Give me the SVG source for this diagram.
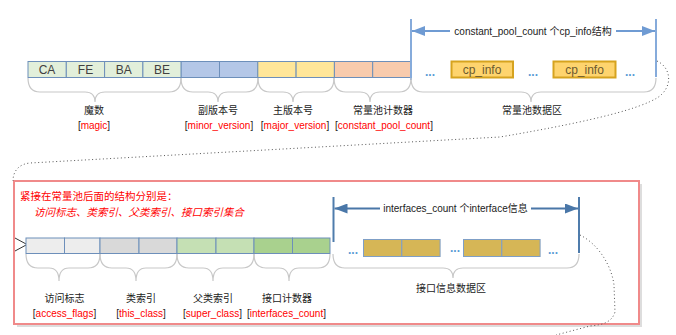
<svg xmlns="http://www.w3.org/2000/svg" width="676" height="335" viewBox="0 0 676 335">
<style>
  .t { font-family: "Liberation Sans", "Noto Sans CJK SC", sans-serif; font-size: 10px; fill: #222; text-anchor: middle; }
  .red { fill: #ff0000; }
  .cell { stroke: #6d8fba; stroke-width: 1; }
  .brace { fill: none; stroke: #c8c8c8; stroke-width: 1.2; }
  .dots { fill: none; stroke: #555; stroke-width: 1; stroke-dasharray: 1 2.6; }
  .ct { font-family: "Liberation Sans", "Noto Sans CJK SC", sans-serif; font-size: 12px; fill: #404040; text-anchor: middle; }
  .cp { fill: #6b5a30; }
  .ell { font-family: "Liberation Sans", sans-serif; font-size: 12px; fill: #5b9bd5; text-anchor: middle; font-weight: bold; }
  .vt1 { stroke: #86abdb; stroke-width: 2; }
  .vt2 { stroke: #4f7cac; stroke-width: 2; }
  .note { font-family: "Liberation Sans", "Noto Sans CJK SC", sans-serif; font-size: 10.5px; fill: #ff0000; }
</style>
<defs>
  <marker id="a1" markerUnits="userSpaceOnUse" markerWidth="13" markerHeight="10" refX="13" refY="5" orient="auto-start-reverse" viewBox="0 0 13 10">
    <path d="M0,0 L13,5 L0,10 z" fill="#6f9bd3"/>
  </marker>
  <marker id="a2" markerUnits="userSpaceOnUse" markerWidth="13" markerHeight="10" refX="13" refY="5" orient="auto-start-reverse" viewBox="0 0 13 10">
    <path d="M0,0 L13,5 L0,10 z" fill="#4a77a8"/>
  </marker>
</defs>
<rect width="676" height="335" fill="#fff"/>

<!-- Red container box -->
<g id="group-after-pool">
  <rect x="17" y="184" width="625" height="143" fill="#cfcfcf" opacity="0.7"/>
  <rect x="14" y="181" width="625" height="143" fill="#fff" stroke="#f08a8a" stroke-width="2"/>
  <text class="note" x="20" y="200">紧接在常量池后面的结构分别是：</text>
  <text class="note" x="34" y="215.5" font-style="italic">访问标志、类索引、父类索引、接口索引集合</text>
</g>

<g id="connectors">
  <path class="dots" d="M657,61 C672,68 673,88 657,98 C640,108 600,120 500,137 L30,163 C19,164 13,171 13,181"/>
  <polyline points="15,238 27,244.5 15,251" fill="none" stroke="#333" stroke-width="1"/>
  <path class="dots" d="M580,235 C600,245 612,268 614,285 L615,312 C612,322 603,325 590,326 L556,335"/>
</g>

<!-- Row 1 -->
<g id="magic">
  <rect class="cell" x="28" y="61.5" width="38.3" height="16" fill="#e2efda"/>
  <rect class="cell" x="66.3" y="61.5" width="38.3" height="16" fill="#e2efda"/>
  <rect class="cell" x="104.6" y="61.5" width="38.3" height="16" fill="#e2efda"/>
  <rect class="cell" x="142.9" y="61.5" width="38.3" height="16" fill="#e2efda"/>
  <text class="ct" x="47" y="74">CA</text>
  <text class="ct" x="85.5" y="74">FE</text>
  <text class="ct" x="123.8" y="74">BA</text>
  <text class="ct" x="162" y="74">BE</text>
  <path class="brace" d="M28,78 Q28,92 40,92 L85,92 Q95,92 95,102 Q95,92 105,92 L169,92 Q181,92 181,78"/>
  <text class="t" x="94" y="114">魔数</text>
  <text class="t" x="94" y="129">[<tspan class="red">magic</tspan>]</text>
</g>
<g id="minor_version">
  <rect class="cell" x="181.2" y="61.5" width="38.3" height="16" fill="#b4c7e7"/>
  <rect class="cell" x="219.5" y="61.5" width="38.3" height="16" fill="#b4c7e7"/>
  <path class="brace" d="M181,78 Q181,92 193,92 L208,92 Q218,92 218,102 Q218,92 228,92 L246,92 Q258,92 258,78"/>
  <text class="t" x="218" y="114">副版本号</text>
  <text class="t" x="219" y="129">[<tspan class="red">minor_version</tspan>]</text>
</g>
<g id="major_version">
  <rect class="cell" x="257.8" y="61.5" width="38.3" height="16" fill="#ffe699"/>
  <rect class="cell" x="296.1" y="61.5" width="38.3" height="16" fill="#ffe699"/>
  <path class="brace" d="M258,78 Q258,92 270,92 L283,92 Q293,92 293,102 Q293,92 303,92 L322,92 Q334,92 334,78"/>
  <text class="t" x="293" y="114">主版本号</text>
  <text class="t" x="295" y="129">[<tspan class="red">major_version</tspan>]</text>
</g>
<g id="constant_pool_count">
  <rect class="cell" x="334.4" y="61.5" width="38.3" height="16" fill="#f8cbad"/>
  <rect class="cell" x="372.7" y="61.5" width="38.3" height="16" fill="#f8cbad"/>
  <path class="brace" d="M334,78 Q334,92 346,92 L360,92 Q370,92 370,102 Q370,92 380,92 L399,92 Q411,92 411,78"/>
  <text class="t" x="383" y="114">常量池计数器</text>
  <text class="t" x="384" y="129">[<tspan class="red">constant_pool_count</tspan>]</text>
</g>
<g id="constant_pool">
  <line class="vt1" x1="411" y1="19" x2="411" y2="80"/>
  <line class="vt1" x1="656" y1="19" x2="656" y2="77"/>
  <line x1="412" y1="31" x2="655" y2="31" stroke="#6f9bd3" stroke-width="2" marker-start="url(#a1)" marker-end="url(#a1)"/>
  <rect x="450" y="25" width="166" height="12" fill="#fff"/>
  <text class="t" x="533" y="34.5">constant_pool_count 个cp_info结构</text>
  <rect x="451.5" y="61.5" width="61.5" height="16" fill="#fed46e" stroke="#d6a31f" stroke-width="2"/>
  <rect x="553.5" y="61.5" width="62" height="16" fill="#fed46e" stroke="#d6a31f" stroke-width="2"/>
  <text class="ct cp" x="482" y="74">cp_info</text>
  <text class="ct cp" x="584.5" y="74">cp_info</text>
  <text class="ell" x="430" y="76">...</text>
  <text class="ell" x="533" y="76">...</text>
  <text class="ell" x="630" y="76">...</text>
  <path class="brace" d="M411,78 Q411,92 423,92 L521,92 Q531,92 531,102 Q531,92 541,92 L644,92 Q656,92 656,78"/>
  <text class="t" x="532" y="114">常量池数据区</text>
</g>

<!-- Row 2 -->
<g id="access_flags">
  <rect class="cell" x="26" y="238" width="38.5" height="15.5" fill="#ededed"/>
  <rect class="cell" x="64.5" y="238" width="35.5" height="15.5" fill="#ededed"/>
  <path class="brace" d="M26,254 Q26,268 38,268 L49,268 Q59,268 59,281 Q59,268 69,268 L88,268 Q100,268 100,254"/>
  <text class="t" x="64.5" y="302">访问标志</text>
  <text class="t" x="64.5" y="317">[<tspan class="red">access_flags</tspan>]</text>
</g>
<g id="this_class">
  <rect class="cell" x="100" y="238" width="39" height="15.5" fill="#d9d9d9"/>
  <rect class="cell" x="139" y="238" width="38" height="15.5" fill="#d9d9d9"/>
  <path class="brace" d="M100,254 Q100,268 112,268 L126,268 Q136,268 136,281 Q136,268 146,268 L165,268 Q177,268 177,254"/>
  <text class="t" x="141" y="302">类索引</text>
  <text class="t" x="141" y="317">[<tspan class="red">this_class</tspan>]</text>
</g>
<g id="super_class">
  <rect class="cell" x="177" y="238" width="39" height="15.5" fill="#c5e0b4"/>
  <rect class="cell" x="216" y="238" width="38" height="15.5" fill="#c5e0b4"/>
  <path class="brace" d="M177,254 Q177,268 189,268 L203,268 Q213,268 213,281 Q213,268 223,268 L242,268 Q254,268 254,254"/>
  <text class="t" x="213" y="302">父类索引</text>
  <text class="t" x="212.5" y="317">[<tspan class="red">super_class</tspan>]</text>
</g>
<g id="interfaces_count">
  <rect class="cell" x="254" y="238" width="38.5" height="15.5" fill="#a9d18e"/>
  <rect class="cell" x="292.5" y="238" width="37.5" height="15.5" fill="#a9d18e"/>
  <path class="brace" d="M254,254 Q254,268 266,268 L279,268 Q289,268 289,281 Q289,268 299,268 L318,268 Q330,268 330,254"/>
  <text class="t" x="287" y="302">接口计数器</text>
  <text class="t" x="286.5" y="317">[<tspan class="red">interfaces_count</tspan>]</text>
</g>
<g id="interfaces">
  <line class="vt2" x1="333.5" y1="197" x2="333.5" y2="242"/>
  <line class="vt2" x1="579" y1="197" x2="579" y2="253"/>
  <line x1="334.5" y1="208.5" x2="578" y2="208.5" stroke="#4a77a8" stroke-width="2" marker-start="url(#a2)" marker-end="url(#a2)"/>
  <rect x="380" y="202" width="151" height="12" fill="#fff"/>
  <text class="t" x="455.5" y="212">interfaces_count 个interface信息</text>
  <rect x="363.5" y="239.5" width="38.3" height="17" fill="#d6b656" stroke="#7f9fc6" stroke-width="1"/>
  <rect x="401.8" y="239.5" width="38.3" height="17" fill="#d6b656" stroke="#7f9fc6" stroke-width="1"/>
  <rect x="463.5" y="239.5" width="38.3" height="17" fill="#d6b656" stroke="#7f9fc6" stroke-width="1"/>
  <rect x="501.8" y="239.5" width="38.3" height="17" fill="#d6b656" stroke="#7f9fc6" stroke-width="1"/>
  <text class="ell" x="353" y="254">...</text>
  <text class="ell" x="455" y="252">...</text>
  <text class="ell" x="553" y="254">...</text>
  <path class="brace" d="M333,254 Q333,268 345,268 L443,268 Q453,268 453,278 Q453,268 463,268 L567,268 Q579,268 579,254"/>
  <text class="t" x="451" y="292">接口信息数据区</text>
</g>
</svg>
